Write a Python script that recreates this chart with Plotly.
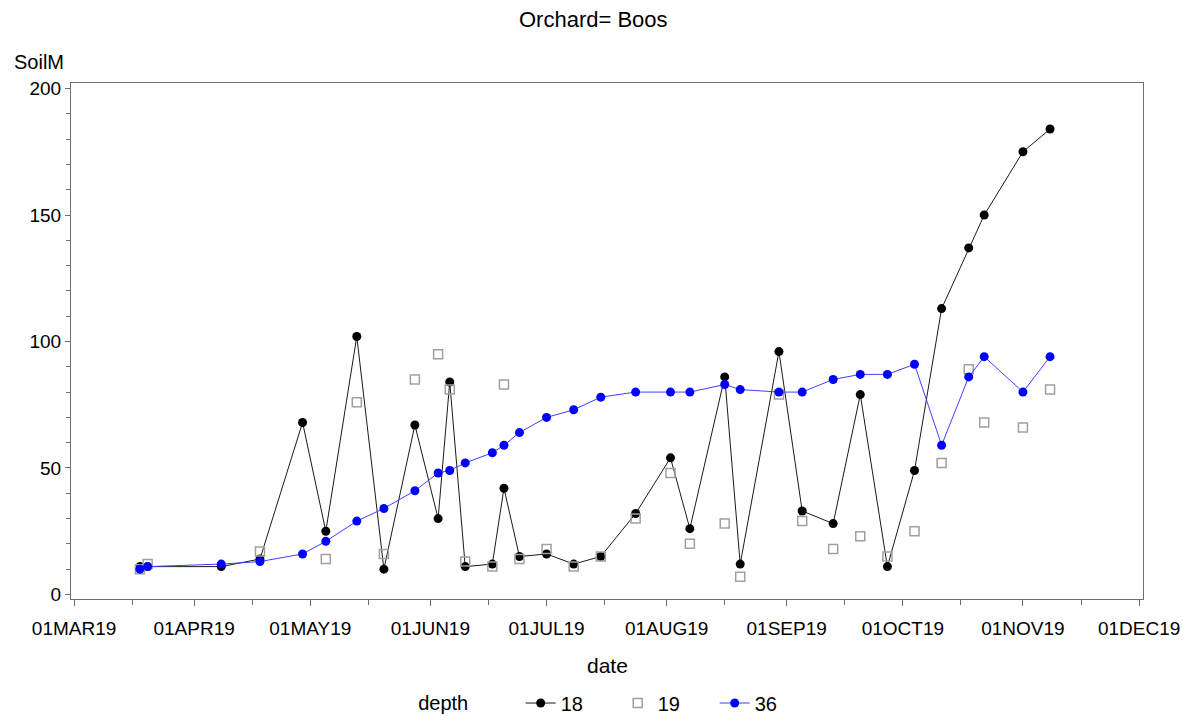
import plotly.graph_objects as go

dates = ["2019-03-18", "2019-03-20", "2019-04-08", "2019-04-18", "2019-04-29",
         "2019-05-05", "2019-05-13", "2019-05-20", "2019-05-28", "2019-06-03",
         "2019-06-06", "2019-06-10", "2019-06-17", "2019-06-20", "2019-06-24",
         "2019-07-01", "2019-07-08", "2019-07-15", "2019-07-24", "2019-08-02",
         "2019-08-07", "2019-08-16", "2019-08-20", "2019-08-30", "2019-09-05",
         "2019-09-13", "2019-09-20", "2019-09-27", "2019-10-04", "2019-10-11",
         "2019-10-18", "2019-10-22", "2019-11-01", "2019-11-08"]

soil_18 = [11, 11, 11, 14, 68, 25, 102, 10, 67, 30, 84, 11, 12, 42, 15, 16, 12, 15,
           32, 54, 26, 86, 12, 96, 33, 28, 79, 11, 49, 113, 137, 150, 175, 184]
soil_19 = [10, 12, None, 17, None, 14, 76, 16, 85, 95, 81, 13, 11, 83, 14, 18, 11, 15,
           30, 48, 20, 28, 7, 79, 29, 18, 23, 15, 25, 52, 89, 68, 66, 81]
soil_36 = [10, 11, 12, 13, 16, 21, 29, 34, 41, 48, 49, 52, 56, 59, 64, 70, 73, 78,
           80, 80, 80, 83, 81, 80, 80, 85, 87, 87, 91, 59, 86, 94, 80, 94]

tick_vals = ["2019-03-01", "2019-04-01", "2019-05-01", "2019-06-01", "2019-07-01",
             "2019-08-01", "2019-09-01", "2019-10-01", "2019-11-01", "2019-12-01"]
tick_text = ["01MAR19", "01APR19", "01MAY19", "01JUN19", "01JUL19",
             "01AUG19", "01SEP19", "01OCT19", "01NOV19", "01DEC19"]
minor_vals = ["2019-03-16", "2019-04-16", "2019-05-16", "2019-06-16", "2019-07-16",
              "2019-08-16", "2019-09-16", "2019-10-16", "2019-11-16"]

FONT = "Liberation Sans"
AX = "#6e6e6e"

fig = go.Figure()
fig.add_trace(go.Scatter(x=dates, y=soil_18, name="18", mode="lines+markers",
                         line=dict(color="#1a1a1a", width=1),
                         marker=dict(color="black", size=9, symbol="circle")))
fig.add_trace(go.Scatter(x=dates, y=soil_19, name="19", mode="markers",
                         marker=dict(color="#a0a0a0", size=9, symbol="square-open",
                                     line=dict(color="#a0a0a0", width=1.5))))
fig.add_trace(go.Scatter(x=dates, y=soil_36, name="36", mode="lines+markers",
                         line=dict(color="#4040ff", width=1),
                         marker=dict(color="#0000ff", size=9, symbol="circle")))

fig.update_layout(
    width=1183, height=716,
    margin=dict(l=71, r=40, t=83, b=117, autoexpand=False),
    paper_bgcolor="white", plot_bgcolor="white",
    font=dict(family=FONT, size=19, color="black"),
    showlegend=True,
    legend=dict(orientation="h", x=0.322, xanchor="left", y=-0.2016, yanchor="middle",
                title=dict(text="depth        ", font=dict(size=20)),
                font=dict(size=20), entrywidth=52, entrywidthmode="pixels",
                tracegroupgap=0),
    annotations=[
        dict(text="Orchard= Boos", xref="paper", yref="paper", x=0.487, y=1.124,
             xanchor="center", yanchor="middle", showarrow=False,
             font=dict(size=22)),
        dict(text="SoilM", xref="paper", yref="paper", x=-0.0555, y=1.04,
             xanchor="left", yanchor="middle", showarrow=False, font=dict(size=20)),
        dict(text="date", xref="paper", yref="paper", x=0.5, y=-0.128,
             xanchor="center", yanchor="middle", showarrow=False, font=dict(size=21)),
    ],
)

fig.update_xaxes(type="date", range=["2019-02-28 05:00", "2019-12-02 00:00"],
                 tickmode="array", tickvals=tick_vals, ticktext=tick_text,
                 ticks="outside", ticklen=6, tickcolor=AX, tickwidth=1,
                 minor=dict(tickmode="array", tickvals=minor_vals, ticks="outside",
                            ticklen=5, tickcolor=AX, tickwidth=1, showgrid=False),
                 showline=True, linecolor=AX, linewidth=1, mirror=True,
                 showgrid=False, zeroline=False, ticklabelstandoff=6,
                 automargin=False, tickfont=dict(size=19))
fig.update_yaxes(range=[-1.8, 202.2], tickmode="array", tickvals=[0, 50, 100, 150, 200],
                 ticks="outside", ticklen=5, tickcolor=AX, tickwidth=1,
                 minor=dict(dtick=10, tick0=0, ticks="outside", ticklen=4,
                            tickcolor=AX, tickwidth=1, showgrid=False),
                 showline=True, linecolor=AX, linewidth=1, mirror=True,
                 showgrid=False, zeroline=False, automargin=False,
                 tickfont=dict(size=19))

# remove the default 8px page margin so the figure fills the window exactly
fig.write_html("out.html", config={"displayModeBar": False},
               post_script="document.body.style.margin='0';document.body.style.overflow='hidden';")
